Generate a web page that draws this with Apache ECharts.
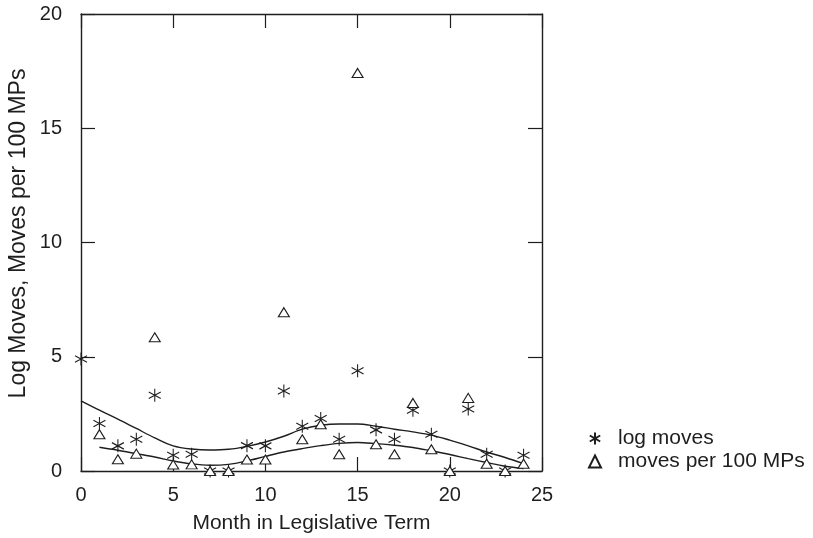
<!DOCTYPE html>
<html>
<head>
<meta charset="utf-8">
<script src="https://cdn.jsdelivr.net/npm/echarts@6/dist/echarts.min.js"></script>
<style>
html,body{margin:0;padding:0;background:#fff;}
#chart{width:813px;height:538px;}
</style>
</head>
<body>
<div id="chart"></div>
<script>
const months = [0,1,2,3,4,5,6,7,8,9,10,11,12,13,14,15,16,17,18,19,20,21,22,23,24];
const logMoves = [4.9,2.08,1.10,1.39,3.32,0.69,0.73,0,0,1.11,1.10,3.5,1.96,2.3,1.39,4.39,1.8,1.39,2.66,1.61,0,2.71,0.73,0,0.69];
const monthsB = [1,2,3,4,5,6,7,8,9,10,11,12,13,14,15,16,17,18,19,20,21,22,23,24];
const movesPer100 = [1.61,0.51,0.76,5.85,0.28,0.29,0,0,0.5,0.5,6.95,1.39,2.05,0.73,17.42,1.17,0.73,2.98,0.95,0,3.2,0.32,0,0.32];
const logSmooth = [3.07,2.66,2.27,1.86,1.45,1.10,0.96,0.92,0.95,1.08,1.27,1.52,1.83,2.0,2.06,2.06,1.96,1.83,1.71,1.57,1.35,1.10,0.83,0.59,0.32];
const movesSmooth = [1.04,0.91,0.76,0.61,0.44,0.31,0.25,0.29,0.44,0.64,0.83,0.98,1.11,1.21,1.25,1.2,1.13,1.03,0.88,0.72,0.54,0.37,0.21,0.11];
const xTicks = [0,5,10,15,20,25];
const yTicks = [0,5,10,15,20];
const legendNames = ['log moves','moves per 100 MPs'];

const FONT = "'Liberation Sans', Arial, Helvetica, sans-serif";
const INK = '#1e1e1e';
const ASTER = 'path://M0,-1L0,1M-0.866,-0.5L0.866,0.5M-0.866,0.5L0.866,-0.5';

const pair = (xs, ys) => xs.map((x, i) => [x, ys[i]]);

const axisCommon = () => ({
  type: 'value',
  axisLine: {show: true, onZero: false, lineStyle: {color: INK, width: 1.4}},
  axisTick: {show: true, inside: true, length: 14, lineStyle: {color: INK, width: 1.2}},
  splitLine: {show: false},
});

const chart = echarts.init(document.getElementById('chart'), null, {renderer: 'canvas'});
chart.setOption({
  animation: false,
  backgroundColor: '#fff',
  textStyle: {fontFamily: FONT},
  grid: {left: 81, top: 14, right: 271, bottom: 67, containLabel: false, outerBoundsMode: 'none'},
  xAxis: [
    Object.assign(axisCommon(), {
      position: 'bottom', min: xTicks[0], max: xTicks[xTicks.length-1], interval: 5,
      axisLabel: {color: INK, fontSize: 20, margin: 14, fontFamily: FONT},
      name: 'Month in Legislative Term', nameLocation: 'middle', nameGap: 42, nameMoveOverlap: false,
      nameTextStyle: {color: INK, fontSize: 21, fontFamily: FONT}
    }),
    Object.assign(axisCommon(), {
      position: 'top', min: xTicks[0], max: xTicks[xTicks.length-1], interval: 5,
      axisLabel: {show: false}
    })
  ],
  yAxis: [
    Object.assign(axisCommon(), {
      position: 'left', min: yTicks[0], max: yTicks[yTicks.length-1], interval: 5,
      axisLabel: {color: INK, fontSize: 20, margin: 19, fontFamily: FONT},
      name: 'Log Moves, Moves per 100 MPs', nameLocation: 'middle', nameGap: 51, nameMoveOverlap: false,
      nameTextStyle: {color: INK, fontSize: 23, fontFamily: FONT, padding: [0, 0, 0, 18]}
    }),
    Object.assign(axisCommon(), {
      position: 'right', min: yTicks[0], max: yTicks[yTicks.length-1], interval: 5,
      axisLabel: {show: false}
    })
  ],
  legend: {
    orient: 'vertical', left: 583, top: 423, itemGap: 2,
    itemWidth: 12, itemHeight: 12,
    textStyle: {color: INK, fontSize: 21, fontFamily: FONT, padding: [0, 0, 0, 12]},
    data: [
      {name: legendNames[0], icon: ASTER},
      {name: legendNames[1], icon: 'triangle'}
    ]
  },
  series: [
    {
      name: 'log smooth', type: 'line', data: pair(months, logSmooth),
      smooth: 0.35, showSymbol: false, symbol: 'none',
      lineStyle: {color: INK, width: 1.4}, z: 2
    },
    {
      name: 'moves smooth', type: 'line', data: pair(monthsB, movesSmooth),
      smooth: 0.35, showSymbol: false, symbol: 'none',
      lineStyle: {color: INK, width: 1.4}, z: 2
    },
    {
      name: legendNames[0], type: 'scatter', data: pair(months, logMoves),
      symbol: ASTER, symbolSize: [12, 13], symbolKeepAspect: false, clip: false,
      itemStyle: {color: 'rgba(0,0,0,0)', borderColor: INK, borderWidth: 1.1, opacity: 1},
      z: 3
    },
    {
      name: legendNames[1], type: 'scatter', data: pair(monthsB, movesPer100),
      symbol: 'triangle', symbolSize: [11, 9], clip: false,
      itemStyle: {color: '#fff', borderColor: INK, borderWidth: 1.1, opacity: 1},
      z: 3
    }
  ]
});
</script>
</body>
</html>
